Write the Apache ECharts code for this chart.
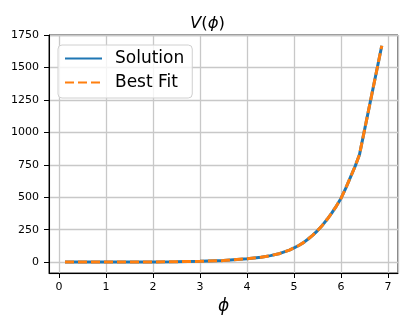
<!DOCTYPE html>
<html>
<head>
<meta charset="utf-8">
<script src="https://cdn.jsdelivr.net/npm/echarts@6/dist/echarts.min.js"></script>
<style>
html,body{margin:0;padding:0;background:#fff;}
#chart{width:415px;height:332px;}
</style>
</head>
<body>
<div id="chart"></div>
<script>
// Data
var phi = [0.13, 0.5, 1.0, 1.5, 2.0, 2.5, 3.0, 3.5, 4.0, 4.3, 4.5, 4.7, 4.9, 5.0, 5.1, 5.2, 5.3, 5.4, 5.5, 5.6, 5.7, 5.8, 5.9, 6.0, 6.1, 6.2, 6.3, 6.39, 6.865];
var solution = [0.1, 0.2, 0.4, 0.8, 1.5, 3, 6, 12, 26, 38, 50, 67, 93, 110, 128, 150, 178, 208, 243, 283, 328, 378, 432, 493, 570, 655, 740, 827, 1668];
var bestFit = [0.1, 0.2, 0.4, 0.8, 1.5, 3, 6, 12, 26, 38, 50, 67, 93, 110, 128, 150, 178, 208, 243, 283, 328, 378, 432, 493, 570, 655, 740, 827, 1668];
var seriesNames = ['Solution', 'Best Fit'];
var xName = 'ϕ';

function pairs(xs, ys) { return xs.map(function (x, i) { return [x, ys[i]]; }); }

var font = 'DejaVu Sans';
var chart = echarts.init(document.getElementById('chart'), null, {renderer: 'canvas'});
chart.setOption({
  animation: false,
  backgroundColor: '#fff',
  title: {
    text: '{i|V}{n|(}{i|ϕ}{n|)}',
    left: 'center',
    top: 10,
    textStyle: {
      fontWeight: 'normal',
      rich: {
        i: {fontFamily: font, fontStyle: 'italic', fontWeight: 'normal', fontSize: 16.5, color: '#000'},
        n: {fontFamily: font, fontWeight: 'normal', fontSize: 16.5, color: '#000'}
      }
    }
  },
  legend: {
    orient: 'vertical',
    left: 58,
    top: 45,
    itemWidth: 37,
    itemHeight: 14,
    itemGap: 7,
    padding: [5, 8, 7, 6],
    backgroundColor: 'rgba(255,255,255,0.8)',
    borderColor: '#d0d0d0',
    borderWidth: 1,
    borderRadius: 4,
    itemStyle: {opacity: 0},
    textStyle: {fontFamily: font, fontSize: 17, color: '#000', padding: [0, 0, 0, 8]},
    data: seriesNames
  },
  grid: {
    left: 49, right: 17, top: 35, bottom: 59,
    show: true, borderColor: '#000', borderWidth: 1, containLabel: false
  },
  xAxis: {
    type: 'value',
    min: -0.21, max: 7.21,
    minInterval: 1, maxInterval: 1,
    name: xName,
    nameLocation: 'middle',
    nameGap: 24,
    nameTextStyle: {fontFamily: font, fontStyle: 'italic', fontSize: 17, color: '#000'},
    axisLine: {show: true, onZero: false, lineStyle: {color: '#000', width: 1}},
    axisTick: {show: true, length: 5, lineStyle: {color: '#000'}},
    axisLabel: {fontFamily: font, fontSize: 11, color: '#000', margin: 9, showMinLabel: false, showMaxLabel: false},
    splitLine: {show: true, lineStyle: {color: '#c8c8c8', width: 1.3}}
  },
  yAxis: {
    type: 'value',
    min: -84, max: 1751,
    minInterval: 250, maxInterval: 250,
    axisLine: {show: true, onZero: false, lineStyle: {color: '#000', width: 1}},
    axisTick: {show: true, length: 5, lineStyle: {color: '#000'}},
    axisLabel: {fontFamily: font, fontSize: 11, color: '#000', margin: 10, showMinLabel: false, showMaxLabel: false,
      formatter: function (v) { return String(Math.round(v)); }},
    splitLine: {show: true, lineStyle: {color: '#c8c8c8', width: 1.3}}
  },
  series: [
    {
      name: seriesNames[0], type: 'line', symbol: 'none', smooth: false,
      data: pairs(phi, solution),
      lineStyle: {color: '#1f77b4', width: 3},
      itemStyle: {color: '#1f77b4'}
    },
    {
      name: seriesNames[1], type: 'line', symbol: 'none', smooth: false,
      data: pairs(phi, bestFit),
      lineStyle: {color: '#ff7f0e', width: 3, type: [9, 4]},
      itemStyle: {color: '#ff7f0e'}
    }
  ]
});
</script>
</body>
</html>
